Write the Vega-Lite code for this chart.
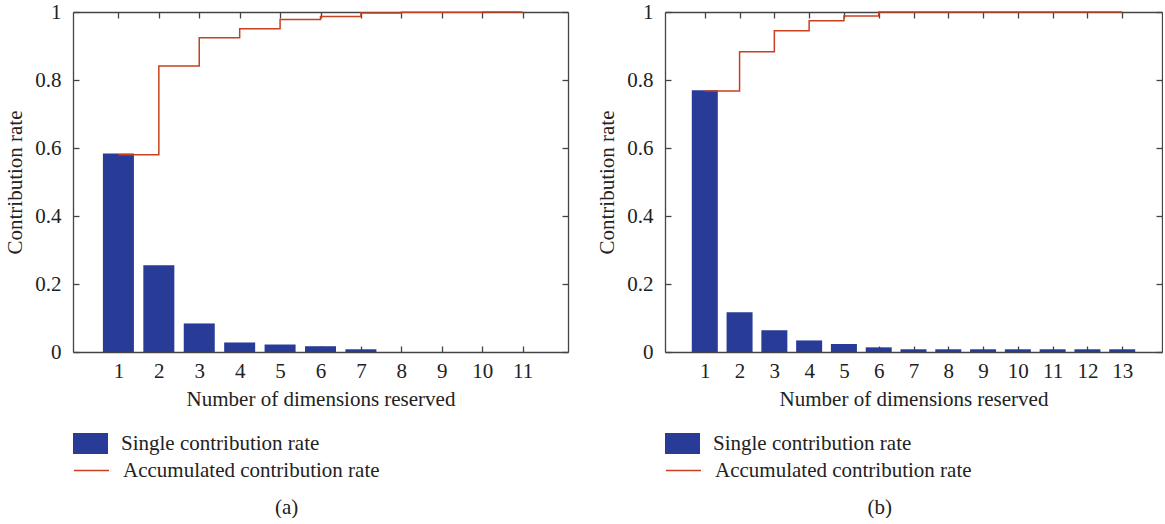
{
  "$schema": "https://vega.github.io/schema/vega-lite/v6.json",
  "background": "white",
  "padding": {"left": 4, "top": 1, "right": 0, "bottom": 0},
  "config": {
    "font": "Liberation Serif",
    "view": {"stroke": null},
    "axis": {
      "labelFont": "Liberation Serif", "labelFontSize": 21, "labelColor": "#222",
      "titleFont": "Liberation Serif", "titleFontSize": 21, "titleFontWeight": "normal", "titleColor": "#222",
      "domainColor": "#444", "tickColor": "#444", "domainWidth": 1.3, "tickWidth": 1.3,
      "grid": false, "tickSize": -6
    },
    "legend": {
      "labelFont": "Liberation Serif", "labelFontSize": 21, "labelColor": "#222",
      "padding": 0, "labelLimit": 400, "labelOffset": 13
    },
    "title": {"font": "Liberation Serif", "fontSize": 21, "fontWeight": "normal", "color": "#222"}
  },
  "datasets": {
    "a": [
      {"dim": 1, "single": 0.584, "acc": 0.580},
      {"dim": 2, "single": 0.255, "acc": 0.841},
      {"dim": 3, "single": 0.084, "acc": 0.924},
      {"dim": 4, "single": 0.028, "acc": 0.951},
      {"dim": 5, "single": 0.022, "acc": 0.978},
      {"dim": 6, "single": 0.017, "acc": 0.987},
      {"dim": 7, "single": 0.008, "acc": 0.997},
      {"dim": 8, "single": 0, "acc": 0.999},
      {"dim": 9, "single": 0, "acc": 0.999},
      {"dim": 10, "single": 0, "acc": 1.0},
      {"dim": 11, "single": 0, "acc": 1.0}
    ],
    "b": [
      {"dim": 1, "single": 0.770, "acc": 0.768},
      {"dim": 2, "single": 0.117, "acc": 0.883},
      {"dim": 3, "single": 0.064, "acc": 0.945},
      {"dim": 4, "single": 0.034, "acc": 0.974},
      {"dim": 5, "single": 0.0235, "acc": 0.988},
      {"dim": 6, "single": 0.0137, "acc": 1.0},
      {"dim": 7, "single": 0.008, "acc": 1.0},
      {"dim": 8, "single": 0.008, "acc": 1.0},
      {"dim": 9, "single": 0.008, "acc": 1.0},
      {"dim": 10, "single": 0.008, "acc": 1.0},
      {"dim": 11, "single": 0.008, "acc": 1.0},
      {"dim": 12, "single": 0.008, "acc": 1.0},
      {"dim": 13, "single": 0.008, "acc": 1.0}
    ]
  },
  "spacing": 27,
  "resolve": {
    "scale": {"fill": "independent", "stroke": "independent"},
    "legend": {"fill": "independent", "stroke": "independent"}
  },
  "hconcat": [
    {
      "width": 495, "height": 340,
      "data": {"name": "a"},
      "title": {"text": "(a)", "orient": "bottom", "anchor": "middle", "frame": "bounds", "offset": 16},
      "resolve": {"axis": {"x": "independent", "y": "independent"}},
      "layer": [
        {
          "mark": {"type": "bar", "width": 31},
          "encoding": {
            "x": {"field": "dim", "type": "quantitative", "scale": {"domain": [0, 12], "nice": false, "zero": false},
              "axis": {"orient": "bottom", "values": [1,2,3,4,5,6,7,8,9,10,11], "title": "Number of dimensions reserved", "labelPadding": 14, "titlePadding": 7}},
            "y": {"field": "single", "type": "quantitative", "scale": {"domain": [0, 1], "nice": false},
              "axis": {"orient": "left", "values": [0, 0.2, 0.4, 0.6, 0.8, 1], "format": ".1~f", "title": "Contribution rate", "labelPadding": 18, "titlePadding": 9}},
            "fill": {"datum": "Single contribution rate", "type": "nominal", "scale": {"range": ["#273B97"]},
              "legend": {"orient": "none", "legendX": 0, "legendY": 414, "title": null, "symbolType": "M-1,-0.6L1,-0.6L1,0.6L-1,0.6Z", "symbolSize": 1225, "symbolStrokeWidth": 0}}
          }
        },
        {
          "mark": {"type": "line", "interpolate": "step-after", "strokeWidth": 1.5},
          "encoding": {
            "x": {"field": "dim", "type": "quantitative",
              "axis": {"orient": "top", "values": [1,2,3,4,5,6,7,8,9,10,11], "labels": false, "title": null}},
            "y": {"field": "acc", "type": "quantitative",
              "axis": {"orient": "right", "values": [0, 0.2, 0.4, 0.6, 0.8, 1], "labels": false, "title": null}},
            "stroke": {"datum": "Accumulated contribution rate", "type": "nominal", "scale": {"range": ["#C8401F"]},
              "legend": {"orient": "none", "legendX": 0, "legendY": 440, "title": null, "symbolType": "M-1,0L1,0", "symbolSize": 1225, "symbolStrokeWidth": 1.5}}
          }
        }
      ]
    },
    {
      "width": 497, "height": 340,
      "data": {"name": "b"},
      "title": {"text": "(b)", "orient": "bottom", "anchor": "middle", "frame": "bounds", "offset": 16},
      "resolve": {"axis": {"x": "independent", "y": "independent"}},
      "layer": [
        {
          "mark": {"type": "bar", "width": 26},
          "encoding": {
            "x": {"field": "dim", "type": "quantitative", "scale": {"domain": [0, 14], "nice": false, "zero": false},
              "axis": {"orient": "bottom", "values": [1,2,3,4,5,6,7,8,9,10,11,12,13], "title": "Number of dimensions reserved", "labelPadding": 14, "titlePadding": 7}},
            "y": {"field": "single", "type": "quantitative", "scale": {"domain": [0, 1], "nice": false},
              "axis": {"orient": "left", "values": [0, 0.2, 0.4, 0.6, 0.8, 1], "format": ".1~f", "title": "Contribution rate", "labelPadding": 18, "titlePadding": 9}},
            "fill": {"datum": "Single contribution rate", "type": "nominal", "scale": {"range": ["#273B97"]},
              "legend": {"orient": "none", "legendX": 0, "legendY": 414, "title": null, "symbolType": "M-1,-0.6L1,-0.6L1,0.6L-1,0.6Z", "symbolSize": 1225, "symbolStrokeWidth": 0}}
          }
        },
        {
          "mark": {"type": "line", "interpolate": "step-after", "strokeWidth": 1.5},
          "encoding": {
            "x": {"field": "dim", "type": "quantitative",
              "axis": {"orient": "top", "values": [1,2,3,4,5,6,7,8,9,10,11,12,13], "labels": false, "title": null}},
            "y": {"field": "acc", "type": "quantitative",
              "axis": {"orient": "right", "values": [0, 0.2, 0.4, 0.6, 0.8, 1], "labels": false, "title": null}},
            "stroke": {"datum": "Accumulated contribution rate", "type": "nominal", "scale": {"range": ["#C8401F"]},
              "legend": {"orient": "none", "legendX": 0, "legendY": 440, "title": null, "symbolType": "M-1,0L1,0", "symbolSize": 1225, "symbolStrokeWidth": 1.5}}
          }
        }
      ]
    }
  ]
}
